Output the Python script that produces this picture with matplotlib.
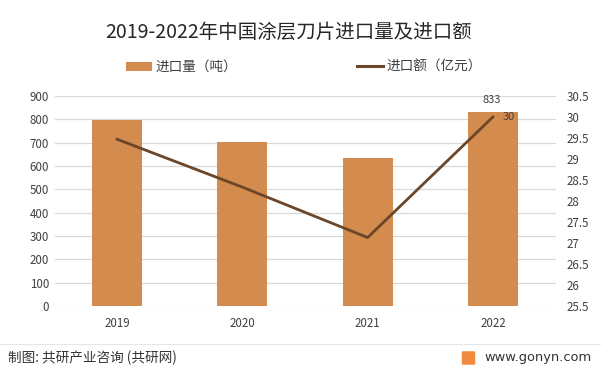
import matplotlib
matplotlib.use("Agg")
import matplotlib.pyplot as plt
from matplotlib.patches import Patch, FancyBboxPatch
from matplotlib.lines import Line2D

plt.rcParams['font.family'] = ['Noto Sans CJK SC', 'DejaVu Sans']

years = ['2019', '2020', '2021', '2022']
volume = [797, 703, 634, 833]          # 进口量（吨）
amount = [29.47, 28.33, 27.13, 30.0]   # 进口额（亿元）
left_ticks = [0, 100, 200, 300, 400, 500, 600, 700, 800, 900]
right_ticks = [25.5, 26, 26.5, 27, 27.5, 28, 28.5, 29, 29.5, 30, 30.5]

bar_color = '#D48B4E'
line_color = '#6B4629'
grid_color = '#D9D9D9'
text_color = '#404040'

fig = plt.figure(figsize=(6.01, 3.74), dpi=100)
fig.patch.set_facecolor('white')
ax = fig.add_axes([54.5/601, 68/374, 501/601, 210/374])
x = list(range(len(years)))
ax.bar(x, volume, width=0.4, color=bar_color, zorder=2)
ax.set_xlim(-0.5, 3.5)
ax.set_ylim(0, 900)
ax.set_yticks(left_ticks)
ax.set_xticks(x)
ax.set_xticklabels(years)
ax.yaxis.grid(True, color=grid_color, linewidth=0.9, zorder=0)
ax.set_axisbelow(True)
for s in ax.spines.values():
    s.set_visible(False)
ax.tick_params(axis='both', length=0, labelsize=8.3, colors=text_color)
ax.tick_params(axis='y', pad=4)
ax.tick_params(axis='x', pad=8)

ax2 = ax.twinx()
ax2.plot(x, amount, color=line_color, linewidth=2.0, zorder=3)
ax2.set_ylim(25.5, 30.5)
ax2.set_yticks(right_ticks)
ax2.set_yticklabels([f'{t:g}' for t in right_ticks])
for s in ax2.spines.values():
    s.set_visible(False)
ax2.tick_params(axis='y', length=0, labelsize=8.3, colors=text_color, pad=8)

ax.annotate(f'{volume[3]}', (x[3], volume[3]), xytext=(-1, 5), textcoords='offset points',
            ha='center', va='bottom', fontsize=8, color=text_color)
ax2.annotate(f'{amount[3]:g}', (x[3], amount[3]), xytext=(7, 0), textcoords='offset points',
             ha='left', va='center', fontsize=8, color=text_color)

fig.text(289/601, 1-32/374, '2019-2022年中国涂层刀片进口量及进口额', ha='center', va='center',
         fontsize=14, color='#262626')

handles = [Patch(facecolor=bar_color, edgecolor='none'),
           Line2D([0], [0], color=line_color, linewidth=2.2)]
labels = ['进口量（吨）', '进口额（亿元）']
fig.legend(handles, labels, ncol=2, loc='center left', bbox_to_anchor=(114/601, 1-67/374),
           frameon=False, fontsize=9.8, handlelength=1.9, handleheight=0.6, handletextpad=0.25,
           columnspacing=8.8, labelcolor=text_color)

fig.add_artist(Line2D([0, 1], [1-344/374, 1-344/374], color='#E6E6E6', linewidth=0.8,
                      transform=fig.transFigure))
fig.text(8/601, 1-358/374, '制图: 共研产业咨询 (共研网)', ha='left', va='center', fontsize=9.8,
         color='#333333')
fig.text(592/601, 1-358/374, 'www.gonyn.com', ha='right', va='center', fontsize=9.4,
         color='#333333', family=['DejaVu Sans'])
fig.patches.append(FancyBboxPatch((463/601, 1-364/374), 11/601, 12/374,
                   boxstyle='round,pad=0.002', facecolor='#F08A3C', edgecolor='none',
                   transform=fig.transFigure, figure=fig))

fig.savefig('out.png', dpi=100, facecolor='white')
